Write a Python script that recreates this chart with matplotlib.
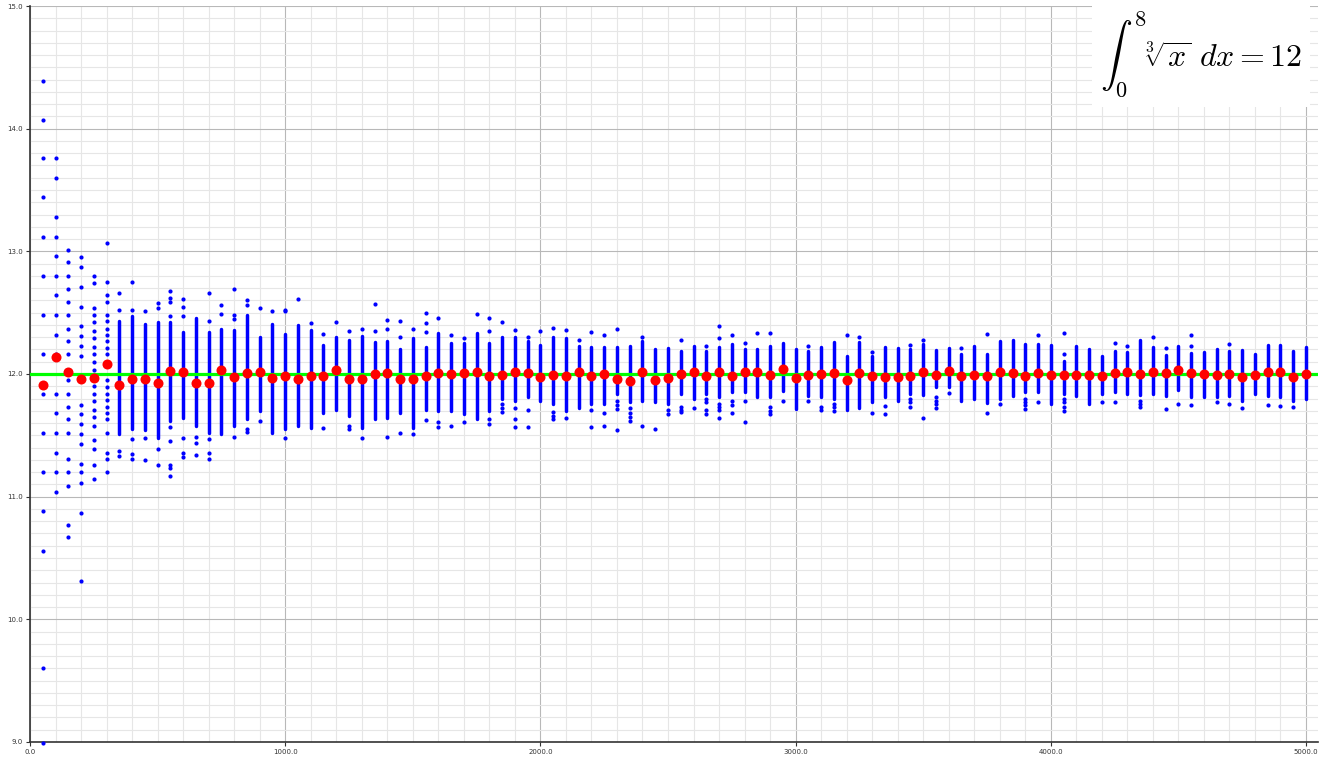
import numpy as np
import matplotlib
matplotlib.use('Agg')
import matplotlib.pyplot as plt
from matplotlib.ticker import MultipleLocator, FormatStrFormatter

plt.rcParams['mathtext.fontset'] = 'cm'

# sparse columns: every distinct estimate visible
sparse_n = [50, 100, 150, 200, 250, 300]
sparse_vals = [
    [14.39, 14.07, 13.76, 13.44, 13.12, 12.80, 12.48, 12.16, 11.84, 11.52, 11.20, 10.88, 10.56, 9.60, 8.99],
    [13.76, 13.60, 13.28, 13.12, 12.96, 12.80, 12.64, 12.48, 12.32, 12.16, 11.84, 11.68, 11.52, 11.36, 11.20, 11.04],
    [13.01, 12.91, 12.80, 12.69, 12.59, 12.48, 12.37, 12.27, 12.16, 11.95, 11.84, 11.73, 11.63, 11.52, 11.31, 11.20,
     11.09, 10.77, 10.67],
    [12.95, 12.87, 12.71, 12.55, 12.39, 12.31, 12.23, 12.15, 11.75, 11.67, 11.59, 11.51, 11.43, 11.27, 11.20, 11.11,
     10.87, 10.31],
    [12.80, 12.74, 12.54, 12.48, 12.42, 12.35, 12.29, 12.22, 12.16, 12.10, 12.03, 11.90, 11.84, 11.78, 11.71, 11.65,
     11.58, 11.46, 11.39, 11.26, 11.14],
    [13.07, 12.75, 12.64, 12.59, 12.48, 12.43, 12.37, 12.32, 12.27, 12.21, 12.16, 11.95, 11.89, 11.84, 11.79, 11.73,
     11.68, 11.63, 11.52, 11.36, 11.31, 11.20],
]

# dense columns: solid core range plus stray points
dense_n = list(range(350, 5001, 50))
core_hi = [12.43, 12.47, 12.41, 12.42, 12.42, 12.345, 12.455, 12.34, 12.37, 12.36,
           12.48, 12.30, 12.41, 12.33, 12.40, 12.36, 12.24, 12.305, 12.28, 12.31,
           12.26, 12.27, 12.20, 12.29, 12.22, 12.335, 12.25, 12.25, 12.335, 12.25,
           12.30, 12.30, 12.27, 12.24, 12.30, 12.29, 12.23, 12.22, 12.22, 12.22,
           12.23, 12.27, 12.20, 12.21, 12.19, 12.23, 12.19, 12.22, 12.245, 12.20,
           12.20, 12.23, 12.25, 12.20, 12.19, 12.22, 12.26, 12.15, 12.26, 12.15,
           12.22, 12.21, 12.20, 12.245, 12.195, 12.21, 12.16, 12.23, 12.16, 12.27,
           12.28, 12.245, 12.245, 12.24, 12.11, 12.23, 12.20, 12.15, 12.19, 12.18,
           12.28, 12.22, 12.155, 12.23, 12.17, 12.18, 12.20, 12.19, 12.195, 12.16,
           12.24, 12.24, 12.19, 12.22]
core_lo = [11.51, 11.555, 11.54, 11.48, 11.62, 11.64, 11.575, 11.52, 11.51, 11.575,
           11.63, 11.70, 11.52, 11.555, 11.58, 11.56, 11.685, 11.71, 11.66, 11.56,
           11.63, 11.64, 11.685, 11.56, 11.71, 11.695, 11.70, 11.67, 11.63, 11.70,
           11.80, 11.78, 11.815, 11.78, 11.755, 11.70, 11.72, 11.755, 11.755, 11.84,
           11.77, 11.78, 11.77, 11.755, 11.84, 11.80, 11.84, 11.81, 11.85, 11.85,
           11.81, 11.81, 11.86, 11.715, 11.82, 11.81, 11.80, 11.705, 11.72, 11.77,
           11.815, 11.78, 11.84, 11.83, 11.89, 11.89, 11.78, 11.80, 11.76, 11.80,
           11.82, 11.85, 11.85, 11.755, 11.84, 11.82, 11.755, 11.84, 11.85, 11.84,
           11.83, 11.84, 11.82, 11.87, 11.81, 11.81, 11.815, 11.82, 11.78, 11.84,
           11.82, 11.81, 11.78, 11.80]
strays = [
    [12.66, 12.52, 11.375, 11.335], [12.75, 12.52, 11.47, 11.35, 11.31], [12.51, 11.475, 11.30],
    [12.58, 12.54, 11.385, 11.255], [12.68, 12.62, 12.585, 12.475, 11.57, 11.45, 11.255, 11.23, 11.17],
    [12.61, 12.55, 12.475, 11.48, 11.36, 11.32], [11.49, 11.44, 11.34], [12.66, 12.43, 11.47, 11.36, 11.31],
    [12.56, 12.49], [12.69, 12.48, 12.45, 11.49],
    [12.605, 12.56, 11.555, 11.53], [12.54, 11.62], [12.51], [12.52, 12.51, 11.48], [12.61],
    [12.415], [12.33, 11.56], [12.42], [12.35, 11.575, 11.55], [12.37, 11.48],
    [12.57, 12.35], [12.44, 12.37, 11.49], [12.43, 12.30, 11.52], [12.37, 11.51], [12.50, 12.415, 12.34, 11.625],
    [12.46, 11.61, 11.565], [12.32, 11.575], [12.295, 11.61], [12.49], [12.46, 12.35, 11.635, 11.59],
    [12.42, 11.755, 11.72, 11.69], [12.36, 11.72, 11.63, 11.565], [12.305, 11.71, 11.57], [12.35],
    [12.375, 11.69, 11.66, 11.63],
    [12.36, 11.645], [12.28], [12.345, 11.705, 11.565], [12.32, 11.68, 11.58], [12.37, 11.78, 11.75, 11.715, 11.54],
    [11.72, 11.68, 11.65, 11.62], [12.305, 11.58], [11.555], [11.71, 11.67], [12.28, 11.73, 11.71, 11.69],
    [11.72], [12.23, 11.80, 11.77, 11.705, 11.67], [12.395, 12.29, 11.755, 11.73, 11.705, 11.645],
    [12.32, 11.78, 11.75, 11.685], [12.25, 11.78, 11.61],
    [12.335], [12.335, 11.73, 11.70, 11.67], [11.78], [], [12.23, 11.78],
    [11.73, 11.705], [11.755, 11.73, 11.70], [12.32], [12.30], [12.18, 11.685],
    [11.74, 11.67], [], [12.24, 11.80, 11.77, 11.73], [12.28, 11.64], [11.81, 11.78, 11.755, 11.72],
    [11.845], [12.21], [], [12.33, 11.685], [11.755],
    [], [11.80, 11.77, 11.745, 11.715], [12.32, 11.77], [], [12.335, 12.16, 11.80, 11.77, 11.73, 11.70],
    [], [], [11.77], [12.25, 11.77], [12.23],
    [11.78, 11.755, 11.73], [12.30], [12.21, 11.715], [11.755], [12.32, 12.23, 11.75],
    [], [11.77], [12.245, 11.755], [11.72], [],
    [11.75], [11.74], [11.73], [],
]

# mean estimate for every sample size
mean_n = list(range(50, 5001, 50))
mean_vals = [11.91, 12.14, 12.02, 11.96, 11.97, 12.08, 11.91, 11.96, 11.96, 11.93,
             12.025, 12.02, 11.925, 11.925, 12.03, 11.975, 12.01, 12.02, 11.965, 11.985,
             11.96, 11.985, 11.985, 12.03, 11.96, 11.96, 12.0, 12.005, 11.96, 11.96,
             11.98, 12.005, 12.0, 12.005, 12.02, 11.985, 11.995, 12.02, 12.01, 11.973,
             11.995, 11.98, 12.02, 11.98, 12.0, 11.96, 11.94, 12.02, 11.955, 11.97,
             12.0, 12.015, 11.98, 12.015, 11.98, 12.02, 12.015, 11.995, 12.04, 11.97,
             11.995, 12.0, 12.01, 11.955, 12.005, 11.98, 11.973, 11.975, 11.98, 12.02,
             11.995, 12.027, 11.98, 11.995, 11.98, 12.015, 12.01, 11.98, 12.01, 11.995,
             11.99, 11.995, 11.995, 11.98, 12.01, 12.02, 12.0, 12.015, 12.005, 12.035,
             12.005, 12.0, 11.99, 12.0, 11.973, 11.99, 12.016, 12.016, 11.973, 12.0]
true_value = 12.0

fig = plt.figure(figsize=(13.22, 7.60), dpi=100)
ax = fig.add_axes([30 / 1322, 18 / 760, 1288 / 1322, 736 / 760])

sx = [n for n, vals in zip(sparse_n, sparse_vals) for v in vals]
sy = [v for vals in sparse_vals for v in vals]
ax.scatter(sx, sy, s=9, c='#0000ff', linewidths=0, zorder=3, clip_on=False)

ax.vlines(dense_n, core_lo, core_hi, colors='#0000ff', linewidth=2.5, capstyle='round', zorder=3)
ox = [n for n, vals in zip(dense_n, strays) for v in vals]
oy = [v for vals in strays for v in vals]
ax.scatter(ox, oy, s=9, c='#0000ff', linewidths=0, zorder=3)

ax.axhline(true_value, color='#00ff00', linewidth=2.3, zorder=4)
ax.scatter(mean_n, mean_vals, s=52, c='#ff0000', linewidths=0, zorder=5)

ax.set_xlim(0, 5047)
ax.set_ylim(9, 15)
ax.xaxis.set_major_locator(MultipleLocator(1000))
ax.xaxis.set_minor_locator(MultipleLocator(100))
ax.yaxis.set_major_locator(MultipleLocator(1))
ax.yaxis.set_minor_locator(MultipleLocator(0.1))
ax.xaxis.set_major_formatter(FormatStrFormatter('%.1f'))
ax.yaxis.set_major_formatter(FormatStrFormatter('%.1f'))
ax.grid(which='major', color='#b8b8b8', linewidth=0.8)
ax.grid(which='minor', color='#e6e6e6', linewidth=0.8)
ax.set_axisbelow(True)
ax.tick_params(which='major', labelsize=5, length=3, width=0.8, colors='#333333', pad=2)
ax.tick_params(which='minor', length=0)
for s in ['top', 'right']:
    ax.spines[s].set_visible(False)
for s in ['left', 'bottom']:
    ax.spines[s].set_color('#333333')
    ax.spines[s].set_linewidth(1.2)

fig.text(1302 / 1322, 1 - 54 / 760, r'$\int_0^8 \sqrt[3]{x}\ dx = 12$', fontsize=23,
         ha='right', va='center',
         bbox=dict(boxstyle='square,pad=0.25', fc='white', ec='none'))

fig.savefig('out.png', dpi=100)
